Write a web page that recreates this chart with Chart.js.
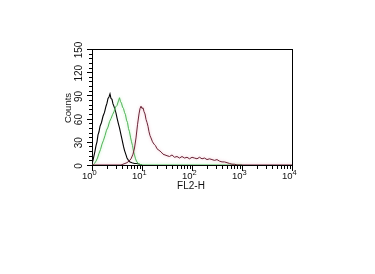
<!DOCTYPE html>
<html><head><meta charset="utf-8">
<script src="https://cdn.jsdelivr.net/npm/chart.js@4"></script>
<style>html,body{margin:0;padding:0;background:#fff}#c{display:block}</style>
</head><body>
<canvas id="c" width="375" height="274"></canvas>
<script>
// log10 of FL2-H intensity (x) and counts (y)
const controlBlackX = [0.00,0.005,0.02,0.04,0.06,0.08,0.10,0.12,0.14,0.16,0.19,0.22,0.25,0.28,0.30,0.32,0.34,0.36,0.38,0.40,0.42,0.45,0.48,0.50,0.53,0.55,0.58,0.60,0.63,0.65,0.68,0.70,0.73,0.76,0.80,0.85,0.90,0.95,1.00];
const controlBlackY = [17,3,6,12,18,25,30,39,43,50,55,63,68,76,80,86,88,92,86,85,79,74,67,61,53,48,39,33,24,19,13,9,6,4,3,2,2,1,0];
const isotypeGreenX = [0.02,0.05,0.08,0.11,0.14,0.17,0.20,0.23,0.26,0.29,0.32,0.35,0.38,0.41,0.44,0.47,0.50,0.53,0.55,0.57,0.59,0.61,0.63,0.65,0.67,0.69,0.71,0.73,0.75,0.77,0.79,0.81,0.83,0.85,0.87,0.89,0.92,0.95,1.0,1.5,2.0,2.5,3.0];
const isotypeGreenY = [0,2,5,9,15,20,27,32,38,45,49,56,60,65,69,75,77,83,87,82,80,75,73,68,65,58,55,47,43,36,30,25,18,13,8,5,2,1,0,0,0,0,0];
const stainedRedX = [0,0.3,0.58,0.62,0.66,0.70,0.74,0.78,0.82,0.85,0.88,0.91,0.94,0.96,0.98,1.00,1.02,1.04,1.06,1.08,1.10,1.12,1.14,1.16,1.18,1.21,1.24,1.27,1.30,1.34,1.38,1.42,1.46,1.50,1.55,1.60,1.65,1.70,1.75,1.80,1.85,1.90,1.95,2.00,2.05,2.10,2.15,2.20,2.25,2.30,2.35,2.40,2.45,2.50,2.55,2.60,2.65,2.70,2.75,2.80,2.85,2.90,3.0,4.0];
const stainedRedY = [0,0,0,1,2,3,5,8,14,22,35,52,66,73,76,73,74,69,66,59,55,50,43,38,35,30,27,25,21,19,17,14,13,12,11,13,10,11,9,11,9,10,8,10,9,8,10,8,9,7,8,7,6,7,5,4,4,3,2,1,1,0,0,0];
const xTickValues = [0,1,2,3,4];
const xTickLabels = ['10^0','10^1','10^2','10^3','10^4'];
const yTickValues = [0,30,60,90,120,150];
const yTickLabels = ['0','30','60','90','120','150'];
const xTitle = 'FL2-H';
const yTitle = 'Counts';
const glowColors = ['rgba(230,150,170,0.7)', 'rgba(150,230,150,0.8)', 'rgba(0,0,0,0)'];

const pts = (xs, ys) => xs.map((x, i) => ({x, y: ys[i]}));

const glowPlugin = {
  id: 'glow',
  beforeDatasetDraw(chart, args) {
    const ctx = chart.ctx;
    ctx.save();
    ctx.shadowColor = glowColors[args.index];
    ctx.shadowBlur = 3;
  },
  afterDatasetDraw(chart) { chart.ctx.restore(); }
};

const axesPlugin = {
  id: 'facsAxes',
  beforeDatasetsDraw(chart) {
    const ctx = chart.ctx, a = chart.chartArea;
    ctx.save();
    ctx.strokeStyle = '#000'; ctx.lineWidth = 1;
    ctx.strokeRect(Math.round(a.left) + 0.5, Math.round(a.top) + 0.5, Math.round(a.right - a.left), Math.round(a.bottom - a.top));
    ctx.restore();
  },
  afterDatasetsDraw(chart) {
    const ctx = chart.ctx, a = chart.chartArea, xs = chart.scales.x, ys = chart.scales.y;
    ctx.save();
    ctx.strokeStyle = '#000'; ctx.lineWidth = 1;
    ctx.beginPath();
    for (let d = 0; d < 4; d++) {
      for (let m = 2; m <= 9; m++) {
        const px = Math.round(xs.getPixelForValue(d + Math.log10(m))) + 0.5;
        ctx.moveTo(px, a.bottom + 1); ctx.lineTo(px, a.bottom + 4);
      }
    }
    xTickValues.forEach(v => {
      const px = Math.round(xs.getPixelForValue(v)) + 0.5;
      ctx.moveTo(px, a.bottom + 1); ctx.lineTo(px, a.bottom + 6);
    });
    for (let v = 0; v <= 150; v += 6) {
      const py = Math.round(ys.getPixelForValue(v)) + 0.5;
      const len = (v % 30 === 0) ? 5 : 3;
      ctx.moveTo(a.left, py); ctx.lineTo(a.left - len, py);
    }
    ctx.stroke();
    ctx.fillStyle = '#111';
    xTickValues.forEach((v, i) => {
      const [base, exp] = xTickLabels[i].split('^');
      const px = xs.getPixelForValue(v);
      ctx.font = '9.5px "Liberation Sans", Arial, sans-serif';
      const bw = ctx.measureText(base).width;
      const start = px - bw + 0.5;
      ctx.textBaseline = 'alphabetic'; ctx.textAlign = 'left';
      ctx.fillText(base, start, a.bottom + 14);
      ctx.font = '7.5px "Liberation Sans", Arial, sans-serif';
      ctx.fillText(exp, start + bw, a.bottom + 10);
    });
    ctx.font = '10px "Liberation Sans", Arial, sans-serif';
    ctx.textAlign = 'center'; ctx.textBaseline = 'alphabetic';
    ctx.fillText(xTitle, (a.left + a.right) / 2 - 1, a.bottom + 24);
    yTickValues.forEach((v, i) => {
      const py = ys.getPixelForValue(v);
      ctx.save();
      ctx.translate(a.left - 8, py + 1);
      ctx.rotate(-Math.PI / 2);
      ctx.textAlign = 'center'; ctx.textBaseline = 'bottom';
      ctx.font = '10px "Liberation Sans", Arial, sans-serif';
      ctx.fillText(yTickLabels[i], 0, 0);
      ctx.restore();
    });
    ctx.save();
    ctx.translate(a.left - 19, (a.top + a.bottom) / 2 + 1);
    ctx.rotate(-Math.PI / 2);
    ctx.textAlign = 'center'; ctx.textBaseline = 'bottom';
    ctx.font = '9.5px "Liberation Sans", Arial, sans-serif';
    ctx.fillText(yTitle, 0, 0);
    ctx.restore();
    ctx.restore();
  }
};

new Chart(document.getElementById('c'), {
  type: 'line',
  data: {
    datasets: [
      { label: 'Stained', data: pts(stainedRedX, stainedRedY), borderColor: '#6a2436', borderWidth: 1, pointRadius: 0, tension: 0 },
      { label: 'Isotype', data: pts(isotypeGreenX, isotypeGreenY), borderColor: '#4fb257', borderWidth: 1, pointRadius: 0, tension: 0 },
      { label: 'Control', data: pts(controlBlackX, controlBlackY), borderColor: '#000000', borderWidth: 1.1, pointRadius: 0, tension: 0 }
    ]
  },
  options: {
    responsive: false, devicePixelRatio: 1, animation: false,
    layout: { padding: { left: 92, right: 83, top: 49, bottom: 109 } },
    plugins: { legend: { display: false }, tooltip: { enabled: false } },
    scales: {
      x: { type: 'linear', min: 0, max: 4, display: false },
      y: { type: 'linear', min: 0, max: 150, display: false }
    }
  },
  plugins: [axesPlugin, glowPlugin]
});
</script>
</body></html>
